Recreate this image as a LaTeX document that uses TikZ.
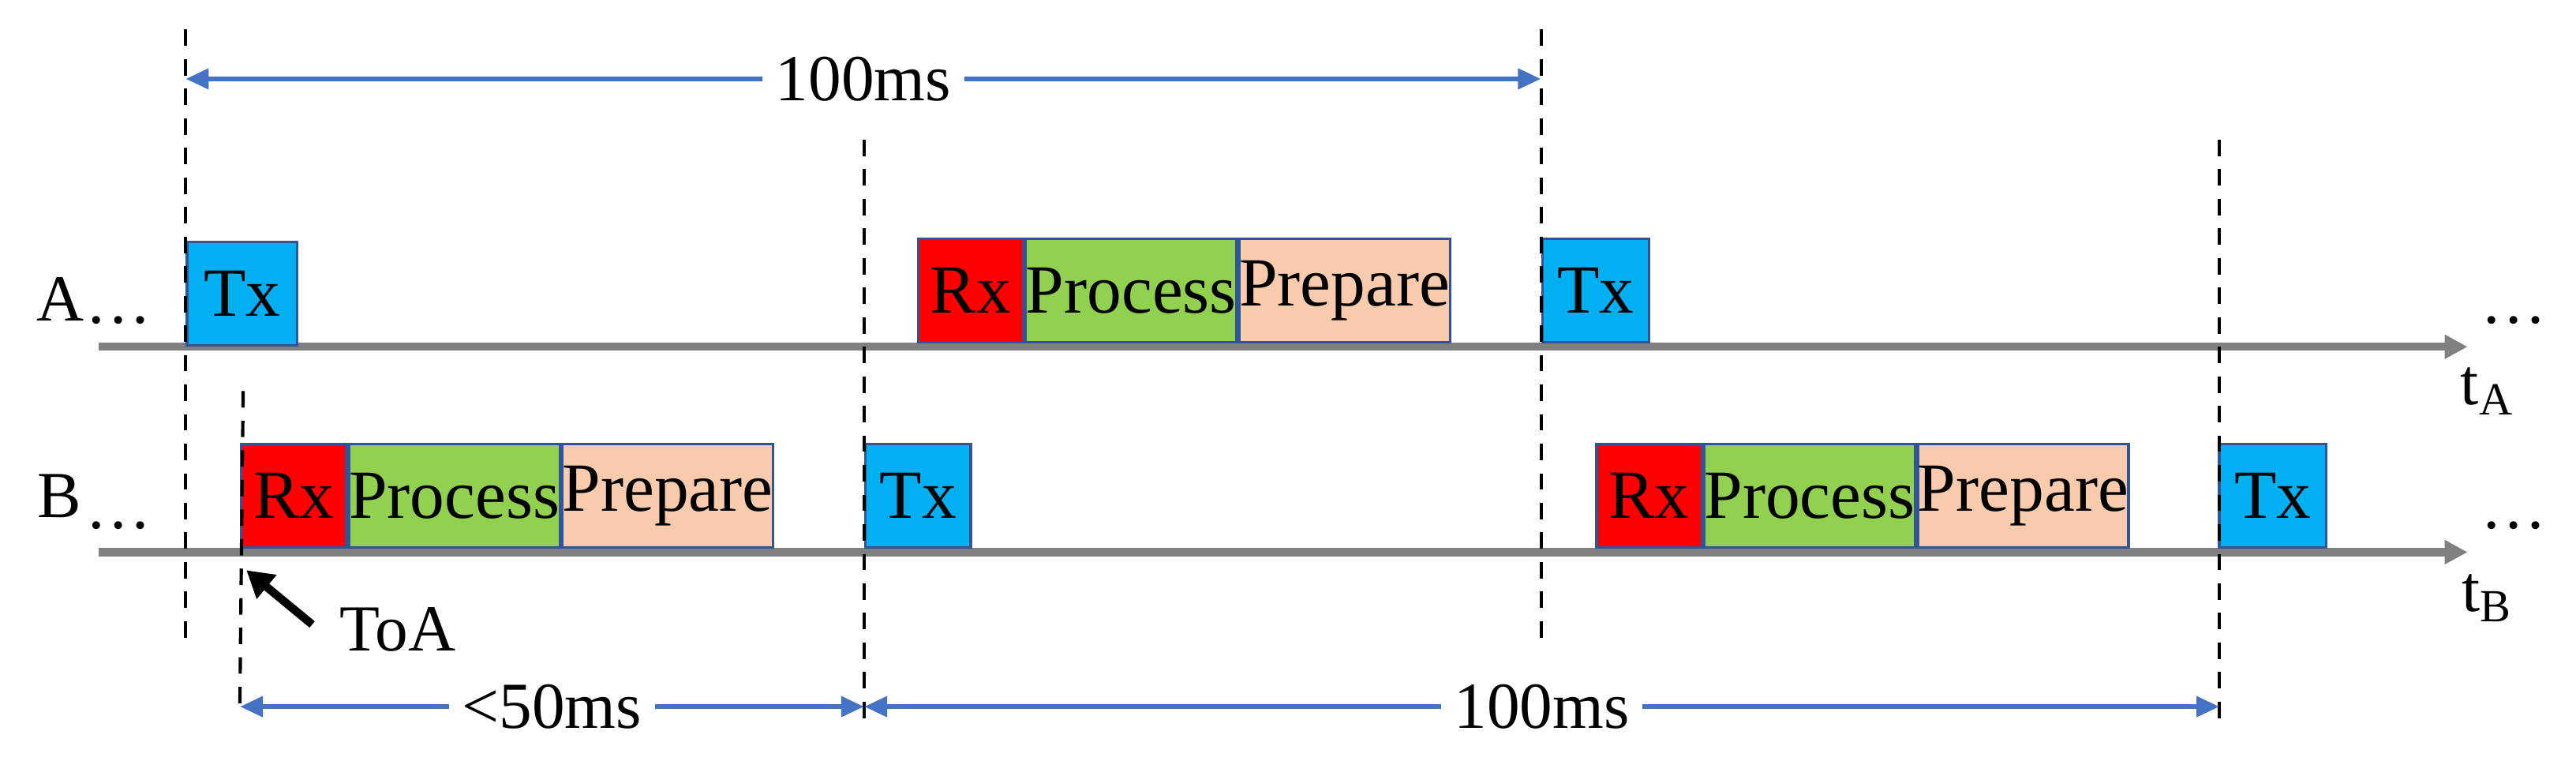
\documentclass[tikz,border=0pt]{standalone}
\usepackage{fontspec}
\setmainfont{Liberation Serif}
\usetikzlibrary{arrows.meta}
\definecolor{txc}{HTML}{00B0F0}
\definecolor{prc}{HTML}{92D050}
\definecolor{ppc}{HTML}{F8CBAD}
\definecolor{bdc}{HTML}{2F5597}
\definecolor{arc}{HTML}{4472C4}
\begin{document}
\begin{tikzpicture}[x=0.5pt,y=-0.5pt,
 box/.style={draw=bdc,line width=0.8pt,minimum height=31.5pt,inner sep=0pt,anchor=south west,font=\fontsize{21}{21}\selectfont},
 tx/.style={box,fill=txc},
 rx/.style={box,fill=red,minimum width=32pt},
 pc/.style={box,fill=prc,minimum width=61.5pt},
 pp/.style={box,fill=ppc,minimum width=61pt},
 axis/.style={draw=gray,line width=2.5pt,-{Triangle[length=7pt,width=7pt]}},
 vdash/.style={draw=black,line width=1pt,dash pattern=on 5pt off 4pt},
 meas/.style={draw=arc,line width=1.6pt,{Triangle[length=7pt,width=6pt]}-{Triangle[length=7pt,width=6pt]}},
 lab/.style={font=\fontsize{20}{20}\selectfont,fill=white,inner xsep=4pt},
 txt/.style={font=\fontsize{20}{20}\selectfont}]
\useasboundingbox (0,0) rectangle (1568,472);
% axes
\coordinate (a0) at (60,211); \coordinate (a1) at (1502,211);
\coordinate (b0) at (60,336); \coordinate (b1) at (1502,336);
\draw[axis] (a0) -- (a1);
\draw[axis] (b0) -- (b1);
% A boxes
\node[tx,minimum width=33.5pt] (atx1) at (113,211) {Tx};
\node[rx] (arx) at (558,209) {Rx};
\node[pc] (apc) at (arx.south east) {Process};
\node[pp] (app) at (apc.south east) {Prepare};
\node[tx,minimum width=32.5pt] (atx2) at (938,209) {Tx};
% B boxes
\node[rx] (brx) at (146,334) {Rx};
\node[pc] (bpc) at (brx.south east) {Process};
\node[pp] (bpp) at (bpc.south east) {Prepare};
\node[tx,minimum width=32pt] (btx1) at (526,334) {Tx};
\node[rx] (brx2) at (971,334) {Rx};
\node[pc] (bpc2) at (brx2.south east) {Process};
\node[pp] (bpp2) at (bpc2.south east) {Prepare};
\node[tx,minimum width=32.5pt] (btx2) at (1350,334) {Tx};
% dashed lines
\coordinate (d1t) at (113,18); \coordinate (d1b) at (113,388);
\coordinate (d2t) at (526,85); \coordinate (d2b) at (526,440);
\coordinate (d3t) at (938,18); \coordinate (d3b) at (938,388);
\coordinate (d4t) at (1351,85); \coordinate (d4b) at (1351,440);
\coordinate (d5t) at (148,238); \coordinate (d5b) at (146,430);
\foreach \i in {1,...,5} \draw[vdash] (d\i t) -- (d\i b);
% labels
\node[txt] (la) at (37,182) {A};
\node[txt] (lb) at (36,302) {B};
\node[txt] (ea) at (72,195) {\dots};
\node[txt] (eb) at (72,320) {\dots};
\node[txt] (ea2) at (1530,195) {\dots};
\node[txt] (eb2) at (1530,320) {\dots};
\node[txt] (ta) at (1514,238) {t\textsubscript{A}};
\node[txt] (tb) at (1514,364) {t\textsubscript{B}};
% ToA
\node[txt] (toa) at (242,383) {ToA};
\coordinate (toas) at (190,380); \coordinate (toae) at (150,347);
\draw[line width=2.5pt,-{Triangle[length=8pt,width=9pt]}] (toas) -- (toae);
% measurement arrows
\coordinate (m1a) at (113,48); \coordinate (m1b) at (938,48);
\coordinate (m2a) at (146,430); \coordinate (m2b) at (526,430);
\coordinate (m3a) at (526,430); \coordinate (m3b) at (1351,430);
\draw[meas] (m1a) -- node[lab] (l1) {100ms} (m1b);
\draw[meas] (m2a) -- node[lab] (l2) {<50ms} (m2b);
\draw[meas] (m3a) -- node[lab,pos=0.5] (l3) {100ms} (m3b);
\end{tikzpicture}
\end{document}
